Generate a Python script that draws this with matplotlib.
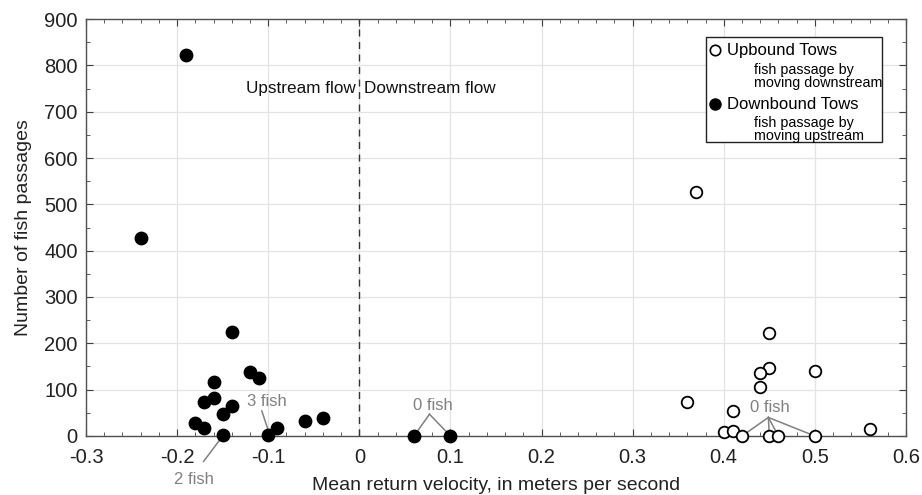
import matplotlib.pyplot as plt
from matplotlib.patches import Rectangle
from matplotlib.ticker import MultipleLocator

plt.rcParams['font.family'] = ['Liberation Sans', 'DejaVu Sans']

# Downbound tows (filled)
down_x = [-0.19, -0.24, -0.14, -0.12, -0.11, -0.16, -0.17, -0.16, -0.14, -0.15,
          -0.18, -0.17, -0.15, -0.10, -0.09, -0.06, -0.04, 0.06, 0.10]
down_y = [822, 428, 225, 138, 126, 117, 73, 82, 65, 47,
          27, 18, 2, 3, 18, 32, 39, 0, 0]

# Upbound tows (open)
up_x = [0.37, 0.36, 0.45, 0.45, 0.44, 0.44, 0.50, 0.41, 0.40, 0.41,
        0.42, 0.45, 0.46, 0.50, 0.56]
up_y = [526, 74, 223, 146, 135, 105, 140, 53, 8, 11,
        0, 0, 0, 0, 15]

gray = '#808080'

fig, ax = plt.subplots(figsize=(9.22, 4.95), dpi=100)
fig.subplots_adjust(left=0.0933, right=0.9826, bottom=0.1192, top=0.9616)

ax.scatter(down_x, down_y, s=80, c='black', zorder=3, clip_on=False)
ax.scatter(up_x, up_y, s=70, facecolors='white', edgecolors='black',
           linewidths=1.3, zorder=3, clip_on=False)

ax.axvline(0, color='#333333', linestyle=(0, (5, 4)), linewidth=1, zorder=2)

ax.set_xlim(-0.3, 0.6)
ax.set_ylim(0, 900)
ax.xaxis.set_major_locator(MultipleLocator(0.1))
ax.xaxis.set_minor_locator(MultipleLocator(0.02))
ax.yaxis.set_major_locator(MultipleLocator(100))
ax.yaxis.set_minor_locator(MultipleLocator(50))
ax.xaxis.set_major_formatter(plt.FuncFormatter(lambda v, p: f'{v:g}' if abs(v) > 1e-9 else '0'))
ax.grid(True, which='major', color='#e3e3e3', linewidth=0.9, zorder=0)
ax.set_axisbelow(True)
ax.tick_params(which='both', direction='in', top=True, right=True, colors='#404040',
               labelcolor='#222222', labelsize=14.5)
ax.tick_params(which='major', length=5)
ax.tick_params(which='minor', length=3)
ax.tick_params(axis='x', pad=9)
ax.tick_params(axis='y', pad=6)
for sp in ax.spines.values():
    sp.set_color('#505050')
    sp.set_linewidth(1)

ax.set_xlabel('Mean return velocity, in meters per second', fontsize=14, color='#222222', labelpad=7)
ax.set_ylabel('Number of fish passages', fontsize=14, color='#222222', labelpad=9)

ax.text(-0.004, 750, 'Upstream flow', ha='right', va='center', fontsize=12.3, color='#111111')
ax.text(0.005, 750, 'Downstream flow', ha='left', va='center', fontsize=12.3, color='#111111')

# annotations
ann = dict(color=gray, linewidth=1.1, clip_on=False, zorder=2)
ax.text(-0.102, 74, '3 fish', ha='center', va='center', fontsize=12, color=gray)
ax.plot([-0.107, -0.099], [54, 6], **ann)
ax.text(-0.181, -93, '2 fish', ha='center', va='center', fontsize=12, color=gray, clip_on=False)
ax.plot([-0.171, -0.15], [-55, 0], **ann)
ax.text(0.081, 65, '0 fish', ha='center', va='center', fontsize=12, color=gray)
for px in [0.06, 0.10]:
    ax.plot([0.077, px], [47, 0], **ann)
ax.text(0.451, 62, '0 fish', ha='center', va='center', fontsize=12, color=gray)
for px in [0.42, 0.45, 0.46, 0.50]:
    ax.plot([0.449, px], [40, 0], **ann)

# legend box
t = ax.transAxes
ax.add_patch(Rectangle((0.756, 0.705), 0.215, 0.252, transform=t, facecolor='white',
                       edgecolor='#222222', linewidth=1, zorder=4))
ax.plot([0.767], [0.925], 'o', ms=7.5, mfc='white', mec='black', mew=1.2, transform=t, zorder=5)
ax.text(0.782, 0.925, 'Upbound Tows', transform=t, fontsize=12, va='center', zorder=5)
ax.text(0.815, 0.877, 'fish passage by', transform=t, fontsize=10.3, va='center', zorder=5)
ax.text(0.815, 0.846, 'moving downstream', transform=t, fontsize=10.3, va='center', zorder=5)
ax.plot([0.767], [0.796], 'o', ms=8, mfc='black', mec='black', transform=t, zorder=5)
ax.text(0.782, 0.796, 'Downbound Tows', transform=t, fontsize=12, va='center', zorder=5)
ax.text(0.815, 0.750, 'fish passage by', transform=t, fontsize=10.3, va='center', zorder=5)
ax.text(0.815, 0.719, 'moving upstream', transform=t, fontsize=10.3, va='center', zorder=5)

fig.savefig('out.png', dpi=100)
